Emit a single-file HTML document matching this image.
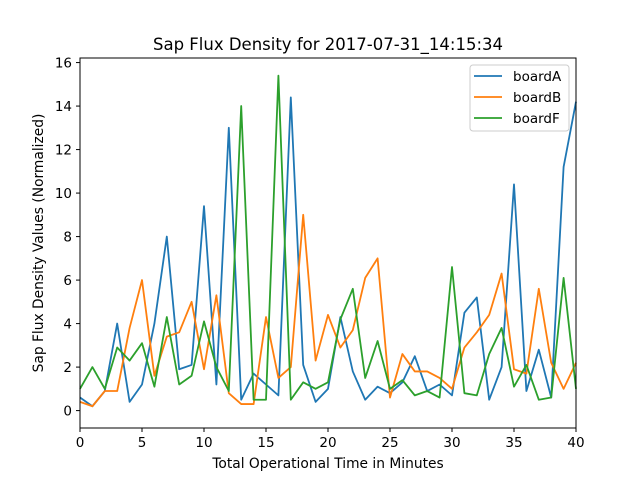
<!DOCTYPE html>
<html><head><meta charset="utf-8"><style>
body{margin:0;background:#fff}
svg{display:block;font-family:"DejaVu Sans","Liberation Sans",sans-serif}
</style></head><body>
<svg id="chart" width="640" height="480">
<rect width="640" height="480" fill="#fff"/>
<text x="328" y="50" text-anchor="middle" font-size="16.5">Sap Flux Density for 2017-07-31_14:15:34</text>
<g id="plot"></g>
<rect x="80" y="58" width="496" height="370" fill="none" stroke="#000" stroke-width="1"/>
<g id="ticks" font-size="13.5"></g>
<text x="328" y="468" text-anchor="middle" font-size="13.8">Total Operational Time in Minutes</text>
<text transform="translate(43,243) rotate(-90)" text-anchor="middle" font-size="13.8">Sap Flux Density Values (Normalized)</text>
<g id="legend">
<rect x="470" y="65" width="99" height="66" rx="3" fill="#fff" fill-opacity="0.8" stroke="#ccc"/>
</g>
</svg>
<script>
const seriesNames=["boardA","boardB","boardF"];
const seriesColors=["#1f77b4","#ff7f0e","#2ca02c"];
const boardA=[0.6,0.2,0.9,4.0,0.4,1.2,4.0,8.0,1.9,2.1,9.4,1.2,13.0,0.5,1.7,1.2,0.7,14.4,2.1,0.4,1.0,4.3,1.8,0.5,1.1,0.8,1.3,2.5,0.9,1.2,0.7,4.5,5.2,0.5,2.0,10.4,0.9,2.8,0.6,11.2,14.2];
const boardB=[0.4,0.2,0.9,0.9,3.8,6.0,1.6,3.4,3.6,5.0,1.9,5.3,0.8,0.3,0.3,4.3,1.5,2.0,9.0,2.3,4.4,2.9,3.7,6.1,7.0,0.6,2.6,1.8,1.8,1.5,1.0,2.9,3.6,4.4,6.3,1.9,1.7,5.6,2.2,1.0,2.2];
const boardF=[1.0,2.0,1.0,2.9,2.3,3.1,1.1,4.3,1.2,1.6,4.1,2.0,0.9,14.0,0.5,0.5,15.4,0.5,1.3,1.0,1.3,4.2,5.6,1.5,3.2,1.0,1.4,0.7,0.9,0.6,6.6,0.8,0.7,2.6,3.8,1.1,2.1,0.5,0.6,6.1,1.0];
const xTicks=[0,5,10,15,20,25,30,35,40];
const yTicks=[0,2,4,6,8,10,12,14,16];
const NS="http://www.w3.org/2000/svg";
const xMin=0,xMax=40,yMin=-0.8,yMax=16.21;
function sx(v){return 80+(v-xMin)/(xMax-xMin)*496;}
function sy(v){return 428-(v-yMin)/(yMax-yMin)*370;}
const plot=document.getElementById('plot');
[boardA,boardB,boardF].forEach((d,i)=>{
  const p=document.createElementNS(NS,'polyline');
  p.setAttribute('points',d.map((v,j)=>sx(j)+','+sy(v)).join(' '));
  p.setAttribute('fill','none');p.setAttribute('stroke',seriesColors[i]);
  p.setAttribute('stroke-width','1.8');p.setAttribute('stroke-linejoin','round');
  
  
  plot.appendChild(p);
});
const tg=document.getElementById('ticks');
xTicks.forEach(t=>{
  const l=document.createElementNS(NS,'line');
  l.setAttribute('x1',sx(t));l.setAttribute('x2',sx(t));l.setAttribute('y1',428);l.setAttribute('y2',432);l.setAttribute('stroke','#000');
  
  
  tg.appendChild(l);
  const tx=document.createElementNS(NS,'text');
  tx.setAttribute('x',sx(t));tx.setAttribute('y',447);tx.setAttribute('text-anchor','middle');tx.textContent=t;
  
  
  tg.appendChild(tx);
});
yTicks.forEach(t=>{
  const l=document.createElementNS(NS,'line');
  l.setAttribute('x1',76);l.setAttribute('x2',80);l.setAttribute('y1',sy(t));l.setAttribute('y2',sy(t));l.setAttribute('stroke','#000');
  
  
  tg.appendChild(l);
  const tx=document.createElementNS(NS,'text');
  tx.setAttribute('x',72);tx.setAttribute('y',sy(t)+5);tx.setAttribute('text-anchor','end');tx.textContent=t;
  
  
  tg.appendChild(tx);
});
const lg=document.getElementById('legend');
seriesNames.forEach((n,i)=>{
  const y=76+i*21;
  const l=document.createElementNS(NS,'line');
  l.setAttribute('x1',474);l.setAttribute('x2',502);l.setAttribute('y1',y);l.setAttribute('y2',y);
  l.setAttribute('stroke',seriesColors[i]);l.setAttribute('stroke-width','1.8');
  
  
  lg.appendChild(l);
  const tx=document.createElementNS(NS,'text');
  tx.setAttribute('x',513);tx.setAttribute('y',y+5);tx.setAttribute('font-size','13.5');tx.textContent=n;
  
  
  lg.appendChild(tx);
});
</script>
</body></html>
